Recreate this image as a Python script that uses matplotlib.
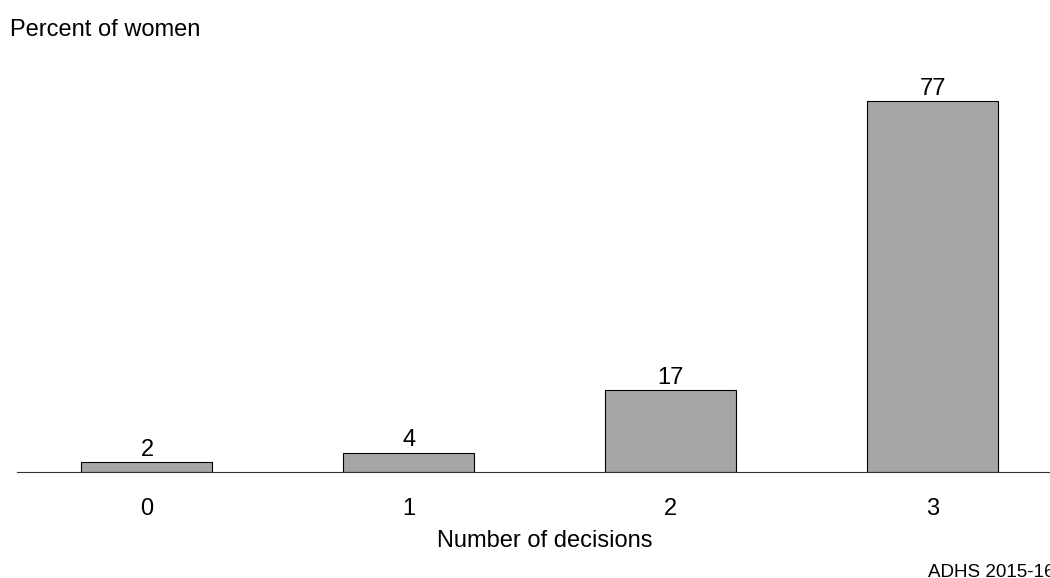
import matplotlib
matplotlib.use("Agg")
import matplotlib.pyplot as plt

categories = ["0", "1", "2", "3"]
percents = [2, 4, 17, 77]

plt.rcParams['font.family'] = ['Liberation Sans', 'DejaVu Sans']

fig = plt.figure(figsize=(10.5, 5.78), dpi=100)
ax = fig.add_axes([17 / 1050, 106 / 578, 1 - 17 / 1050, 80 * 4.818 / 578])

x = list(range(len(categories)))
ax.bar(x, percents, width=0.5, color="#a6a6a6", edgecolor="black", linewidth=0.8, zorder=2)
for xi, v in zip(x, percents):
    ax.text(xi, v + 0.3, str(v), ha="center", va="bottom", fontsize=17)

ax.set_xlim(-0.496, 3.447)
ax.set_ylim(0, 80)
ax.set_xticks(x)
ax.set_xticklabels(categories, fontsize=17)
ax.tick_params(axis="x", length=0, pad=18.5)
ax.set_yticks([])
for side in ["top", "right", "left"]:
    ax.spines[side].set_visible(False)
ax.spines["bottom"].set_linewidth(0.8)
ax.spines["bottom"].set_color("#333333")
ax.set_xlabel("Number of decisions", fontsize=17)
ax.xaxis.set_label_coords(0.511, -(541 - 472) / (80 * 4.818))
ax.xaxis.label.set_va("center")

fig.text(10 / 1050, 1 - 30 / 578, "Percent of women", fontsize=17, va="center", ha="left")
fig.text(928 / 1050, 1 - 577 / 578, "ADHS 2015-16", fontsize=13.5, va="baseline", ha="left")

fig.savefig("out.png", dpi=100)
